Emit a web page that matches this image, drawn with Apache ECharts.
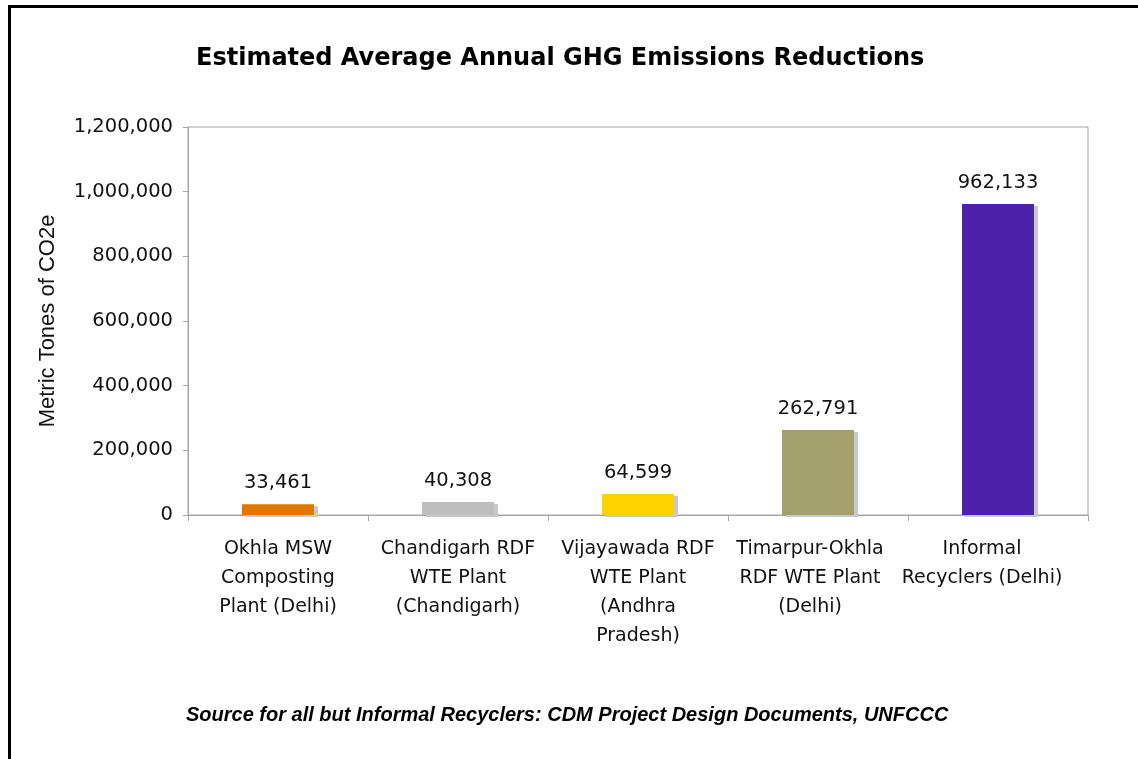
<!DOCTYPE html>
<html>
<head>
<meta charset="utf-8">
<title>GHG Emissions Reductions</title>
<script src="https://cdn.jsdelivr.net/npm/echarts@6/dist/echarts.min.js"></script>
<style>
  html, body { margin: 0; padding: 0; background: #fff; }
  #frame {
    position: absolute; left: 8px; top: 5px; width: 1130px; height: 754px;
    border-left: 3px solid #000; border-top: 3px solid #000;
  }
  #ghg-chart { position: absolute; left: 0; top: 0; width: 1138px; height: 759px; }
</style>
</head>
<body>
<div id="frame"></div>
<div id="ghg-chart"></div>
<script>
// chart data
const categories = [
  'Okhla MSW\nComposting\nPlant (Delhi)',
  'Chandigarh RDF\nWTE Plant\n(Chandigarh)',
  'Vijayawada RDF\nWTE Plant\n(Andhra\nPradesh)',
  'Timarpur-Okhla\nRDF WTE Plant\n(Delhi)',
  'Informal\nRecyclers (Delhi)'
];
const reductions = [33461, 40308, 64599, 262791, 962133];
const barColors = ['#E07800', '#BEBEBE', '#FFD300', '#A3A06E', '#4C22AA'];
const yTicks = [0, 200000, 400000, 600000, 800000, 1000000, 1200000];

const fmt = v => String(v).replace(/\B(?=(\d{3})+(?!\d))/g, ',');
const axisGray = '#A6A6A6';
// excel nudges the last labels left so they stay inside the chart
const labelStyle = ['c', 'c', 'c', 'n1', 'n2'];

const chartObj = echarts.init(document.getElementById('ghg-chart'));
const option = {
  animation: false,
  title: [{
    text: 'Estimated Average Annual GHG Emissions Reductions',
    left: 191,
    top: 42,
    textStyle: { fontFamily: 'DejaVu Sans', fontWeight: 'bold', fontSize: 24, color: '#000' }
  }, {
    text: 'Source for all but Informal Recyclers: CDM Project Design Documents, UNFCCC',
    left: 181,
    top: 700,
    textStyle: { fontFamily: 'Liberation Sans', fontWeight: 'bold', fontStyle: 'italic', fontSize: 20, color: '#000' }
  }],
  grid: {
    left: 188, right: 50, top: 127, bottom: 244,
    show: true, borderColor: axisGray, borderWidth: 1,
    containLabel: false
  },
  xAxis: {
    type: 'category',
    data: categories,
    axisLine: { lineStyle: { color: axisGray } },
    axisTick: { show: true, length: 6, lineStyle: { color: axisGray } },
    axisLabel: {
      interval: 0,
      margin: 20,
      color: '#111',
      fontFamily: 'DejaVu Sans',
      fontSize: 19,
      lineHeight: 29,
      formatter: (val, idx) => {
        const tag = labelStyle[idx];
        return val.split('\n').map(l => '{' + tag + '|' + l + '}').join('\n');
      },
      rich: {
        c: { fontFamily: 'DejaVu Sans', fontSize: 19, lineHeight: 29, color: '#111' },
        n1: { fontFamily: 'DejaVu Sans', fontSize: 19, lineHeight: 29, color: '#111', padding: [0, 16, 0, 0] },
        n2: { fontFamily: 'DejaVu Sans', fontSize: 19, lineHeight: 29, color: '#111', padding: [0, 32, 0, 0] }
      }
    }
  },
  yAxis: {
    type: 'value',
    min: yTicks[0],
    max: yTicks[yTicks.length - 1],
    interval: 200000,
    name: 'Metric Tones of CO2e',
    nameLocation: 'middle',
    nameGap: 129,
    nameTextStyle: { fontFamily: 'Liberation Sans', fontSize: 22, color: '#111' },
    axisLine: { show: true, lineStyle: { color: axisGray } },
    axisTick: { show: true, length: 5, lineStyle: { color: axisGray } },
    splitLine: { show: false },
    axisLabel: {
      margin: 15,
      color: '#111',
      fontFamily: 'DejaVu Sans',
      fontSize: 19.5,
      formatter: fmt
    }
  },
  series: [{
    type: 'bar',
    barWidth: 72,
    data: reductions.map((v, i) => ({ value: v, itemStyle: { color: barColors[i] } })),
    itemStyle: {
      shadowColor: '#C8C8C8',
      shadowOffsetX: 4,
      shadowOffsetY: 2,
      shadowBlur: 0
    },
    label: {
      show: true,
      position: 'top',
      distance: 11,
      color: '#111',
      fontFamily: 'DejaVu Sans',
      fontSize: 19.5,
      formatter: p => fmt(p.value)
    }
  }]
};
chartObj.setOption(option);
</script>
</body>
</html>
